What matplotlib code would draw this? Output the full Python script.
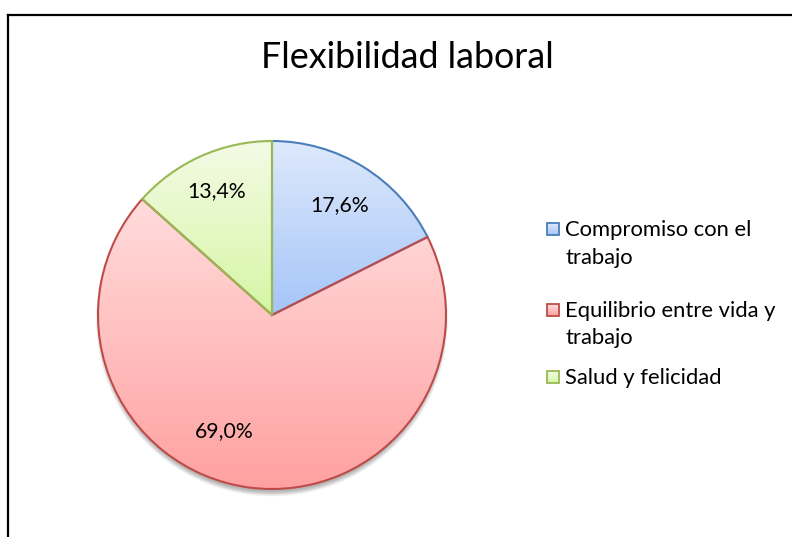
import numpy as np
import matplotlib
matplotlib.use("Agg")
import matplotlib.pyplot as plt
from matplotlib.colors import LinearSegmentedColormap, to_rgb
from matplotlib.patches import Circle, Rectangle
from matplotlib.lines import Line2D

plt.rcParams['font.family'] = ['Lato', 'DejaVu Sans']

# Datos
categorias = ["Compromiso con el\ntrabajo", "Equilibrio entre vida y\ntrabajo", "Salud y felicidad"]
valores = [17.6, 69.0, 13.4]
etiquetas = ["17,6%", "69,0%", "13,4%"]

# Degradados (arriba -> abajo) y bordes
color_arriba = ["#dee9fc", "#ffdcdc", "#f4fbe6"]
color_abajo = ["#a5c5f8", "#ffa1a1", "#d5f6a4"]
color_borde = ["#4a7ebb", "#be4b48", "#98b954"]

fig = plt.figure(figsize=(7.92, 5.37), dpi=100)
W, H = 792, 537

# centro y radio del pastel en pixeles
cx, cy, r = 272, 315, 174
lim = 1.15
ax = fig.add_axes([(cx - r * lim) / W, (H - cy - r * lim) / H, 2 * r * lim / W, 2 * r * lim / H])
ax.set_aspect("equal")
ax.axis("off")

# sombra difusa debajo del pastel
for i in range(10):
    ax.add_patch(Circle((0.0, -0.03), 0.985 + i * 0.003, facecolor="black",
                        edgecolor="none", alpha=0.03, zorder=0))

wedges, _ = ax.pie(valores, startangle=90, counterclock=False, radius=1.0,
                   wedgeprops=dict(linewidth=1.5), frame=False)

for w, ca, cb, ce in zip(wedges, color_arriba, color_abajo, color_borde):
    w.set_facecolor("none")
    w.set_edgecolor(ce)
    w.set_zorder(3)
    # extension vertical del sector
    t = np.linspace(np.radians(w.theta1), np.radians(w.theta2), 200)
    ys = np.concatenate([np.sin(t), [0.0]])
    xs = np.concatenate([np.cos(t), [0.0]])
    cmap = LinearSegmentedColormap.from_list("g", [cb, ca])
    grad = np.linspace(0, 1, 256).reshape(-1, 1)
    im = ax.imshow(grad, cmap=cmap, origin="lower", aspect="auto",
                   extent=[xs.min(), xs.max(), ys.min(), ys.max()], zorder=2,
                   interpolation="bilinear")
    im.set_clip_path(w)

# etiquetas de porcentaje
pos_etiqueta = [(0.74, 0.0), (0.72, -15.0), (0.78, 0.0)]
for w, txt, (rr, da) in zip(wedges, etiquetas, pos_etiqueta):
    ang = np.radians((w.theta1 + w.theta2) / 2 + da)
    ax.text(rr * np.cos(ang), rr * np.sin(ang), txt, ha="center", va="center",
            fontsize=15.3, color="black", zorder=5)

ax.set_xlim(-lim, lim)
ax.set_ylim(-lim, lim)

fig.text(407 / W, 1 - 58 / H, "Flexibilidad laboral", ha="center", va="center",
         fontsize=25.8, color="black")

# leyenda: cuadro con degradado y texto en varias lineas
ley_base = [236, 317, 384]   # linea base del primer renglon (px desde arriba)
paso = 27.5
for cat, base, ca, cb, ce in zip(categorias, ley_base, color_arriba, color_abajo, color_borde):
    lax = fig.add_axes([547 / W, 1 - (base - 1) / H, 12 / W, 12 / H])
    lax.axis("off")
    cmap = LinearSegmentedColormap.from_list("g", [cb, ca])
    lax.imshow(np.linspace(0, 1, 32).reshape(-1, 1), cmap=cmap, origin="lower",
               aspect="auto", extent=[0, 1, 0, 1])
    lax.add_patch(Rectangle((0, 0), 1, 1, facecolor="none", edgecolor=ce,
                            linewidth=1.3, clip_on=False))
    lax.set_xlim(0, 1)
    lax.set_ylim(0, 1)
    for k, linea in enumerate(cat.split("\n")):
        fig.text(565 / W, 1 - (base + k * paso) / H, linea, ha="left", va="baseline",
                 fontsize=15.8, color="black")

# marco del grafico
fig.add_artist(Line2D([7.5 / W, 7.5 / W], [0, 1 - 14.5 / H], transform=fig.transFigure,
                      color="black", linewidth=1.6))
fig.add_artist(Line2D([7.5 / W, 1], [1 - 14.5 / H, 1 - 14.5 / H], transform=fig.transFigure,
                      color="black", linewidth=1.6))

fig.savefig("out.png", dpi=100)
